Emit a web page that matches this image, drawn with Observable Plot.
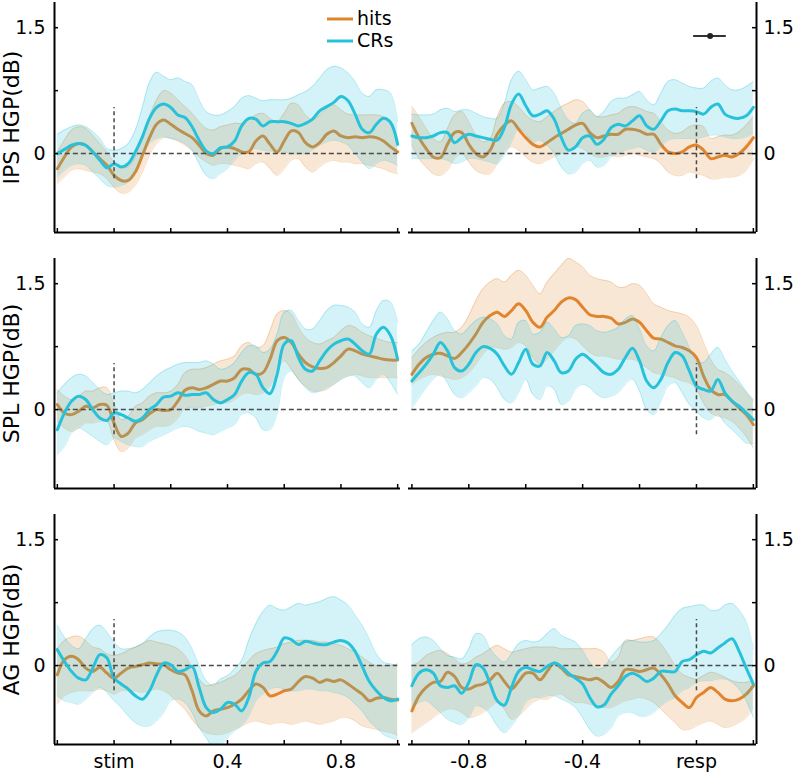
<!DOCTYPE html>
<html><head><meta charset="utf-8">
<script src="https://cdn.jsdelivr.net/npm/d3@7"></script>
<script src="https://cdn.jsdelivr.net/npm/@observablehq/plot@0.6"></script>
<style>
body{margin:0;background:#fff;font-family:"DejaVu Sans",sans-serif;}
#wrap{position:relative;width:793px;height:773px;overflow:hidden;background:#fff;}
.panel{position:absolute;}
</style></head><body><div id="wrap"></div>
<script>
// ---------- time axes ----------
const timeStim=[-0.2,-0.175,-0.15,-0.125,-0.1,-0.075,-0.05,-0.025,0,0.025,0.05,0.075,0.1,0.125,0.15,0.175,0.2,0.225,0.25,0.275,0.3,0.325,0.35,0.375,0.4,0.425,0.45,0.475,0.5,0.525,0.55,0.575,0.6,0.625,0.65,0.675,0.7,0.725,0.75,0.775,0.8,0.825,0.85,0.875,0.9,0.925,0.95,0.975,1.0];
const timeResp=[-1.0,-0.975,-0.95,-0.925,-0.9,-0.875,-0.85,-0.825,-0.8,-0.775,-0.75,-0.725,-0.7,-0.675,-0.65,-0.625,-0.6,-0.575,-0.55,-0.525,-0.5,-0.475,-0.45,-0.425,-0.4,-0.375,-0.35,-0.325,-0.3,-0.275,-0.25,-0.225,-0.2,-0.175,-0.15,-0.125,-0.1,-0.075,-0.05,-0.025,0,0.025,0.05,0.075,0.1,0.125,0.15,0.175,0.2];

// ---------- IPS, stimulus-locked ----------
const ipsStimHits=[-0.18,-0.04,0.08,0.12,0.10,0.02,-0.06,-0.14,-0.26,-0.32,-0.32,-0.22,-0.02,0.19,0.35,0.40,0.35,0.29,0.24,0.19,0.10,0.00,-0.02,0.06,0.08,0.06,0.02,0.02,0.15,0.21,0.11,0.02,0.15,0.27,0.25,0.13,0.08,0.13,0.23,0.27,0.21,0.19,0.20,0.19,0.20,0.19,0.15,0.08,0.02];
const ipsStimHitsLo=[-0.36,-0.28,-0.2,-0.18,-0.2,-0.22,-0.24,-0.3,-0.4,-0.47,-0.46,-0.38,-0.22,-0.02,0.12,0.19,0.18,0.15,0.1,0.04,-0.04,-0.1,-0.14,-0.12,-0.12,-0.14,-0.16,-0.18,-0.12,-0.1,-0.18,-0.26,-0.18,-0.08,-0.06,-0.16,-0.22,-0.16,-0.1,-0.08,-0.1,-0.1,-0.12,-0.12,-0.14,-0.16,-0.18,-0.22,-0.24];
const ipsStimHitsHi=[0.02,0.16,0.28,0.32,0.3,0.22,0.12,0.02,-0.1,-0.16,-0.16,-0.04,0.2,0.44,0.64,0.75,0.72,0.64,0.56,0.48,0.38,0.3,0.28,0.32,0.34,0.36,0.36,0.4,0.46,0.48,0.42,0.38,0.48,0.6,0.58,0.46,0.4,0.46,0.54,0.58,0.52,0.47,0.46,0.46,0.46,0.46,0.44,0.38,0.16];
const ipsStimCrs=[0.0,0.05,0.10,0.12,0.10,0.02,-0.08,-0.17,-0.12,-0.16,-0.12,0.02,0.2,0.42,0.55,0.59,0.55,0.46,0.43,0.32,0.16,0.03,0.0,0.07,0.08,0.15,0.33,0.42,0.41,0.33,0.38,0.38,0.38,0.36,0.33,0.36,0.41,0.51,0.56,0.61,0.68,0.63,0.47,0.29,0.25,0.35,0.42,0.37,0.11];
const ipsStimCrsLo=[-0.28,-0.2,-0.14,-0.12,-0.14,-0.22,-0.3,-0.38,-0.4,-0.38,-0.34,-0.22,-0.02,0.12,0.18,0.2,0.18,0.16,0.12,0.04,-0.12,-0.26,-0.3,-0.24,-0.18,-0.08,0.0,0.04,0.06,0.04,0.03,0.02,0.02,0.0,0.0,0.0,0.04,0.1,0.14,0.16,0.14,0.1,0.0,-0.1,-0.18,-0.12,-0.08,-0.1,-0.14];
const ipsStimCrsHi=[0.23,0.28,0.32,0.34,0.32,0.26,0.18,0.06,0.04,0.06,0.12,0.28,0.55,0.85,0.97,0.92,0.88,0.9,0.86,0.82,0.64,0.5,0.46,0.46,0.5,0.56,0.66,0.69,0.66,0.63,0.64,0.64,0.64,0.66,0.7,0.74,0.8,0.9,1.0,1.04,1.02,0.96,0.86,0.72,0.68,0.76,0.76,0.72,0.38];

// ---------- IPS, response-locked ----------
const ipsRespHits=[0.36,0.19,0.06,-0.04,-0.05,0.11,0.25,0.25,0.11,0.0,-0.04,0.04,0.23,0.34,0.39,0.29,0.19,0.11,0.08,0.13,0.19,0.24,0.29,0.34,0.36,0.25,0.19,0.21,0.23,0.23,0.29,0.29,0.27,0.23,0.23,0.11,0.02,0.0,0.02,0.08,0.1,0.04,-0.06,-0.04,-0.02,-0.04,0.0,0.08,0.19];
const ipsRespHitsLo=[0.1,-0.06,-0.16,-0.24,-0.26,-0.2,-0.06,0.0,-0.1,-0.2,-0.24,-0.24,-0.12,0.02,0.08,0.04,-0.04,-0.1,-0.12,-0.08,-0.04,0.0,0.04,0.08,0.06,0.0,-0.04,-0.04,-0.02,-0.04,-0.02,0.0,-0.02,-0.04,-0.06,-0.12,-0.22,-0.26,-0.26,-0.22,-0.24,-0.26,-0.3,-0.3,-0.28,-0.28,-0.26,-0.2,-0.06];
const ipsRespHitsHi=[0.56,0.44,0.3,0.18,0.14,0.3,0.46,0.5,0.38,0.22,0.14,0.18,0.44,0.6,0.62,0.56,0.46,0.4,0.38,0.44,0.5,0.56,0.6,0.64,0.62,0.52,0.44,0.44,0.46,0.48,0.54,0.56,0.54,0.5,0.48,0.38,0.28,0.24,0.26,0.32,0.34,0.32,0.18,0.2,0.22,0.22,0.26,0.34,0.44];
const ipsRespCrs=[0.21,0.19,0.19,0.21,0.25,0.25,0.13,0.19,0.23,0.21,0.19,0.17,0.16,0.31,0.59,0.71,0.57,0.45,0.47,0.51,0.41,0.19,0.04,0.08,0.19,0.21,0.11,0.17,0.31,0.35,0.33,0.39,0.45,0.33,0.29,0.39,0.51,0.53,0.51,0.51,0.5,0.47,0.55,0.59,0.47,0.43,0.42,0.45,0.55];
const ipsRespCrsLo=[-0.06,-0.06,-0.06,-0.06,-0.06,-0.08,-0.12,-0.1,-0.06,-0.06,-0.08,-0.1,-0.12,-0.02,0.14,0.3,0.24,0.14,0.16,0.1,0.0,-0.16,-0.24,-0.22,-0.12,-0.08,-0.16,-0.14,-0.04,0.0,0.04,0.06,0.08,0.04,0.02,0.08,0.16,0.18,0.18,0.18,0.18,0.2,0.22,0.22,0.2,0.18,0.18,0.2,0.24];
const ipsRespCrsHi=[0.47,0.46,0.46,0.47,0.52,0.54,0.5,0.52,0.52,0.48,0.44,0.42,0.42,0.6,0.88,0.98,0.88,0.76,0.78,0.8,0.72,0.54,0.4,0.36,0.48,0.52,0.44,0.5,0.62,0.66,0.66,0.7,0.74,0.64,0.58,0.72,0.86,0.88,0.84,0.8,0.78,0.78,0.86,0.9,0.82,0.76,0.76,0.8,0.86];

// ---------- SPL, stimulus-locked ----------
const splStimHits=[0.06,-0.04,-0.06,-0.02,0.04,0.02,0.06,0.05,-0.16,-0.32,-0.28,-0.16,-0.12,-0.05,0.0,-0.01,0.0,0.1,0.23,0.26,0.24,0.26,0.3,0.34,0.34,0.38,0.48,0.48,0.42,0.44,0.6,0.82,0.86,0.8,0.66,0.56,0.51,0.49,0.5,0.56,0.64,0.72,0.7,0.66,0.64,0.62,0.6,0.59,0.59];
const splStimHitsLo=[-0.14,-0.22,-0.26,-0.22,-0.16,-0.16,-0.14,-0.14,-0.36,-0.5,-0.46,-0.34,-0.3,-0.24,-0.2,-0.2,-0.18,-0.1,0.02,0.02,0.02,0.04,0.06,0.08,0.08,0.12,0.18,0.2,0.18,0.2,0.28,0.46,0.58,0.48,0.36,0.28,0.22,0.22,0.24,0.3,0.36,0.4,0.42,0.4,0.38,0.38,0.38,0.38,0.38];
const splStimHitsHi=[0.24,0.16,0.12,0.16,0.22,0.22,0.26,0.26,0.06,-0.12,-0.08,0.04,0.08,0.16,0.2,0.2,0.22,0.3,0.44,0.48,0.48,0.5,0.54,0.58,0.6,0.64,0.76,0.8,0.74,0.76,0.94,1.14,1.18,1.14,0.98,0.86,0.8,0.78,0.82,0.86,0.94,1.0,0.98,0.92,0.88,0.85,0.82,0.8,0.8];
const splStimCrs=[-0.24,-0.04,0.1,0.16,0.12,0.0,-0.1,-0.13,-0.04,-0.06,-0.1,-0.14,-0.1,0.0,0.06,0.15,0.16,0.2,0.17,0.18,0.18,0.2,0.12,0.08,0.12,0.18,0.34,0.44,0.42,0.26,0.19,0.42,0.78,0.82,0.62,0.48,0.46,0.58,0.7,0.78,0.82,0.84,0.78,0.7,0.66,0.9,0.98,0.88,0.6];
const splStimCrsLo=[-0.54,-0.44,-0.28,-0.22,-0.26,-0.32,-0.38,-0.42,-0.34,-0.38,-0.42,-0.44,-0.44,-0.38,-0.34,-0.3,-0.26,-0.22,-0.2,-0.22,-0.26,-0.28,-0.3,-0.26,-0.22,-0.18,-0.06,-0.04,-0.1,-0.24,-0.24,-0.04,0.38,0.46,0.36,0.26,0.2,0.22,0.26,0.3,0.36,0.4,0.4,0.32,0.26,0.36,0.42,0.32,0.18];
const splStimCrsHi=[0.2,0.3,0.38,0.42,0.4,0.32,0.24,0.18,0.2,0.22,0.22,0.2,0.24,0.32,0.4,0.46,0.5,0.54,0.56,0.56,0.56,0.58,0.54,0.48,0.5,0.56,0.68,0.76,0.76,0.68,0.72,0.9,1.16,1.18,1.06,0.96,0.96,1.06,1.18,1.24,1.24,1.22,1.16,1.02,0.98,1.18,1.3,1.28,1.04];

// ---------- SPL, response-locked ----------
const splRespHits=[0.42,0.54,0.62,0.66,0.67,0.64,0.61,0.68,0.78,0.9,1.04,1.12,1.16,1.11,1.18,1.26,1.18,1.04,0.98,1.1,1.18,1.28,1.33,1.31,1.22,1.13,1.11,1.11,1.09,1.02,1.04,1.08,1.04,0.94,0.85,0.84,0.8,0.76,0.74,0.7,0.62,0.4,0.24,0.18,0.18,0.1,0.02,-0.06,-0.18];
const splRespHitsLo=[0.3,0.36,0.4,0.42,0.4,0.38,0.36,0.38,0.44,0.54,0.66,0.74,0.74,0.72,0.74,0.8,0.76,0.62,0.54,0.6,0.7,0.8,0.86,0.84,0.76,0.68,0.64,0.64,0.62,0.6,0.6,0.6,0.56,0.5,0.44,0.42,0.4,0.38,0.34,0.32,0.24,0.08,-0.04,-0.08,-0.1,-0.14,-0.22,-0.32,-0.46];
const splRespHitsHi=[0.62,0.72,0.8,0.86,0.9,0.92,0.92,0.98,1.12,1.3,1.44,1.52,1.56,1.52,1.6,1.66,1.6,1.48,1.38,1.52,1.62,1.72,1.8,1.76,1.7,1.6,1.56,1.54,1.52,1.46,1.46,1.5,1.48,1.38,1.26,1.22,1.18,1.16,1.14,1.1,1.0,0.8,0.6,0.48,0.44,0.38,0.3,0.2,0.1];
const splRespCrs=[0.34,0.44,0.54,0.66,0.8,0.7,0.5,0.46,0.54,0.68,0.75,0.73,0.66,0.52,0.42,0.56,0.72,0.54,0.52,0.68,0.58,0.44,0.46,0.6,0.66,0.6,0.52,0.44,0.42,0.48,0.62,0.73,0.58,0.34,0.26,0.36,0.56,0.68,0.64,0.46,0.28,0.24,0.22,0.36,0.2,0.1,0.04,-0.04,-0.12];
const splRespCrsLo=[0.02,0.14,0.26,0.36,0.42,0.32,0.18,0.14,0.2,0.28,0.38,0.36,0.26,0.12,0.08,0.2,0.36,0.18,0.12,0.28,0.24,0.06,0.1,0.24,0.3,0.26,0.18,0.14,0.16,0.2,0.3,0.36,0.22,0.0,-0.06,0.1,0.28,0.32,0.2,0.06,-0.02,-0.1,-0.12,-0.06,-0.16,-0.24,-0.32,-0.4,-0.4];
const splRespCrsHi=[0.7,0.78,0.92,1.06,1.16,1.08,0.94,0.9,0.98,1.06,1.1,1.08,1.02,0.88,0.84,1.04,1.06,0.9,0.92,1.04,0.96,0.86,0.88,1.0,1.02,1.0,0.94,0.92,0.94,0.98,1.08,1.12,0.96,0.76,0.7,0.86,1.0,1.06,0.92,0.74,0.58,0.56,0.66,0.74,0.6,0.46,0.34,0.22,0.12];

// ---------- AG, stimulus-locked ----------
const agStimHits=[-0.11,0.07,0.11,0.07,-0.03,-0.07,-0.02,-0.09,-0.15,-0.09,-0.03,-0.01,0.01,0.03,0.02,0.01,-0.05,-0.09,-0.11,-0.3,-0.54,-0.6,-0.54,-0.52,-0.5,-0.46,-0.4,-0.3,-0.22,-0.26,-0.36,-0.34,-0.3,-0.28,-0.19,-0.13,-0.15,-0.2,-0.17,-0.19,-0.17,-0.22,-0.28,-0.34,-0.42,-0.39,-0.38,-0.4,-0.41];
const agStimHitsLo=[-0.46,-0.36,-0.32,-0.3,-0.3,-0.3,-0.28,-0.3,-0.34,-0.3,-0.3,-0.3,-0.32,-0.3,-0.28,-0.3,-0.36,-0.44,-0.52,-0.64,-0.74,-0.8,-0.82,-0.82,-0.8,-0.76,-0.72,-0.68,-0.66,-0.68,-0.7,-0.68,-0.68,-0.7,-0.68,-0.66,-0.68,-0.7,-0.68,-0.66,-0.62,-0.62,-0.66,-0.72,-0.74,-0.76,-0.78,-0.8,-0.83];
const agStimHitsHi=[0.2,0.3,0.34,0.35,0.3,0.22,0.2,0.14,0.12,0.14,0.18,0.22,0.26,0.3,0.28,0.26,0.24,0.2,0.12,-0.02,-0.16,-0.24,-0.22,-0.2,-0.16,-0.12,-0.04,0.06,0.14,0.18,0.2,0.22,0.26,0.28,0.3,0.3,0.3,0.28,0.28,0.26,0.24,0.2,0.16,0.1,0.04,0.0,0.0,0.0,0.02];
const agStimCrs=[0.19,0.05,-0.07,-0.15,-0.17,-0.03,0.13,0.09,-0.15,-0.22,-0.28,-0.36,-0.4,-0.3,-0.11,0.03,0.01,-0.07,-0.05,-0.01,-0.26,-0.5,-0.56,-0.52,-0.44,-0.46,-0.54,-0.38,-0.07,0.03,0.05,0.17,0.33,0.31,0.25,0.29,0.27,0.25,0.25,0.28,0.3,0.27,0.17,-0.01,-0.19,-0.3,-0.38,-0.42,-0.4];
const agStimCrsLo=[-0.36,-0.42,-0.44,-0.46,-0.4,-0.32,-0.26,-0.32,-0.42,-0.5,-0.6,-0.68,-0.72,-0.72,-0.66,-0.56,-0.42,-0.4,-0.44,-0.56,-0.74,-0.86,-0.98,-0.95,-0.86,-0.78,-0.72,-0.6,-0.42,-0.34,-0.28,-0.26,-0.28,-0.3,-0.3,-0.28,-0.28,-0.3,-0.3,-0.32,-0.34,-0.38,-0.46,-0.54,-0.66,-0.74,-0.82,-0.86,-0.88];
const agStimCrsHi=[0.48,0.34,0.24,0.2,0.32,0.44,0.48,0.4,0.28,0.2,0.2,0.22,0.26,0.34,0.4,0.42,0.42,0.4,0.34,0.2,0.0,-0.18,-0.24,-0.16,-0.12,-0.04,0.06,0.3,0.5,0.64,0.72,0.68,0.66,0.7,0.74,0.72,0.74,0.76,0.8,0.82,0.78,0.72,0.6,0.48,0.32,0.14,0.04,0.02,0.0];

// ---------- AG, response-locked ----------
const agRespHits=[-0.54,-0.36,-0.26,-0.2,-0.19,-0.08,-0.13,-0.26,-0.28,-0.24,-0.22,-0.17,-0.09,-0.19,-0.28,-0.19,-0.09,-0.09,-0.17,-0.07,0.03,-0.03,-0.11,-0.13,-0.15,-0.17,-0.15,-0.2,-0.26,-0.19,-0.05,-0.05,-0.07,-0.05,-0.03,-0.11,-0.22,-0.36,-0.44,-0.5,-0.38,-0.32,-0.26,-0.32,-0.4,-0.42,-0.4,-0.34,-0.24];
const agRespHitsLo=[-0.8,-0.74,-0.68,-0.62,-0.56,-0.52,-0.52,-0.56,-0.62,-0.6,-0.56,-0.5,-0.44,-0.52,-0.64,-0.6,-0.52,-0.44,-0.4,-0.4,-0.36,-0.34,-0.4,-0.44,-0.44,-0.46,-0.48,-0.5,-0.5,-0.46,-0.42,-0.4,-0.38,-0.4,-0.44,-0.52,-0.6,-0.68,-0.76,-0.76,-0.72,-0.68,-0.66,-0.7,-0.74,-0.72,-0.68,-0.62,-0.5];
const agRespHitsHi=[0.0,0.04,0.12,0.16,0.18,0.14,0.08,0.02,0.04,0.1,0.14,0.2,0.24,0.2,0.16,0.18,0.2,0.22,0.22,0.22,0.22,0.2,0.2,0.2,0.2,0.2,0.2,0.16,0.04,0.1,0.3,0.3,0.32,0.34,0.34,0.26,0.14,0.0,-0.1,-0.14,-0.16,-0.12,-0.08,-0.1,-0.14,-0.18,-0.2,-0.2,-0.18];
const agRespCrs=[-0.24,-0.09,-0.05,-0.09,-0.24,-0.26,-0.24,-0.33,-0.2,0.01,-0.03,-0.22,-0.42,-0.47,-0.26,-0.07,-0.02,-0.05,-0.07,-0.01,0.03,-0.01,-0.09,-0.15,-0.22,-0.38,-0.49,-0.47,-0.34,-0.24,-0.13,-0.09,-0.13,-0.19,-0.15,-0.07,-0.07,-0.07,0.05,0.07,0.13,0.17,0.15,0.21,0.27,0.32,0.17,-0.03,-0.22];
const agRespCrsLo=[-0.5,-0.44,-0.42,-0.48,-0.56,-0.64,-0.68,-0.7,-0.62,-0.48,-0.5,-0.58,-0.72,-0.8,-0.72,-0.6,-0.44,-0.38,-0.38,-0.36,-0.36,-0.4,-0.44,-0.5,-0.62,-0.76,-0.84,-0.82,-0.74,-0.6,-0.56,-0.56,-0.6,-0.6,-0.56,-0.48,-0.42,-0.38,-0.3,-0.26,-0.2,-0.18,-0.18,-0.16,-0.16,-0.2,-0.28,-0.42,-0.62];
const agRespCrsHi=[0.25,0.32,0.34,0.3,0.2,0.12,0.1,0.08,0.2,0.38,0.36,0.2,0.1,0.04,0.14,0.26,0.3,0.28,0.3,0.38,0.44,0.36,0.32,0.28,0.18,0.04,-0.04,-0.02,0.1,0.2,0.28,0.3,0.28,0.28,0.3,0.38,0.48,0.6,0.68,0.7,0.72,0.72,0.66,0.66,0.72,0.74,0.66,0.52,0.2];

// ---------- labels & annotations ----------
const regionLabels=["IPS HGP(dB)","SPL HGP(dB)","AG HGP(dB)"];
const seriesNames=["hits","CRs"];
const stimTicks=[-0.2,0,0.2,0.4,0.6,0.8,1.0];
const stimTickLabels=[0,0.4,0.8];
const respTicks=[-1.0,-0.8,-0.6,-0.4,-0.2,0,0.2];
const respTickLabels=[-0.8,-0.4,0];
const yTicks=[0,0.75,1.5];
const yTickLabels=[0,1.5];
const onsetMarker=[{x:0,y1:-0.3,y2:0.55}];
const rtBar=[{x:0.048,x1:-0.01,x2:0.105,y:1.4}];

const hitsColor="#E0852E", crsColor="#27C2DA", refColor="#4a4a4a";
const yDomain=[-0.94,1.8];
const stimDomain=[-0.21,1.01], respDomain=[-1.012,0.211];
const frameTops=[2,258,514], frameH=230;

const wrap=document.getElementById("wrap");

function makePanel(cfg){
  const left=cfg.side==="left";
  const width=left?404:389, mL=left?54:4, mR=left?4:37;
  const mT=6, mB=cfg.bottom?32:6;
  const frameW=width-mL-mR;
  const time=cfg.time;
  const rows=(m,lo,hi)=>time.map((t,i)=>({t,m:m[i],lo:lo[i],hi:hi[i]}));
  const H=rows(cfg.hits,cfg.hitsLo,cfg.hitsHi);
  const C=rows(cfg.crs,cfg.crsLo,cfg.crsHi);
  const curve="catmull-rom";
  const band=(D,col)=>[
    Plot.areaY(D,{x:"t",y1:"lo",y2:"hi",fill:col,fillOpacity:0.2,curve,clip:true}),
    Plot.lineY(D,{x:"t",y:"lo",stroke:col,strokeOpacity:0.35,strokeWidth:0.8,curve,clip:true}),
    Plot.lineY(D,{x:"t",y:"hi",stroke:col,strokeOpacity:0.35,strokeWidth:0.8,curve,clip:true})
  ];
  const marks=[
    ...band(H,hitsColor),
    Plot.lineY(H,{x:"t",y:"m",stroke:hitsColor,strokeWidth:3,curve,clip:true}),
    ...band(C,crsColor),
    Plot.ruleY([{y:0,x1:time[0],x2:time[time.length-1]}],{y:"y",x1:"x1",x2:"x2",stroke:refColor,strokeWidth:1.5,strokeDasharray:"5,3"}),
    Plot.lineY(C,{x:"t",y:"m",stroke:crsColor,strokeWidth:3,curve,clip:true}),
    Plot.ruleX(onsetMarker,{x:"x",y1:"y1",y2:"y2",stroke:refColor,strokeWidth:1.5,strokeDasharray:"4,3"}),
    // axis lines
    Plot.ruleY([yDomain[0]],{stroke:"#000",strokeWidth:2}),
    Plot.ruleX([left?cfg.xDomain[0]:cfg.xDomain[1]],{stroke:"#000",strokeWidth:2}),
    // ticks (inward)
    Plot.tickX(cfg.ticks,{x:d=>d,insetTop:frameH-4,stroke:"#000",strokeWidth:1.5}),
    Plot.tickY(yTicks,{y:d=>d,...(left?{insetRight:frameW-4}:{insetLeft:frameW-4}),stroke:"#000",strokeWidth:1.5}),
    Plot.axisY({anchor:left?"left":"right",ticks:yTickLabels,tickSize:0,tickPadding:left?9:7,tickFormat:d=>String(d),label:null,fontSize:19})
  ];
  if(left){
    marks.push(Plot.text([cfg.ylabel],{text:d=>d,frameAnchor:"left",textAnchor:"middle",dx:-43,rotate:-90,fontSize:22,fill:"#000"}));
  }
  if(cfg.bottom){
    marks.push(Plot.axisX({anchor:"bottom",ticks:cfg.labelTicks,tickSize:0,tickPadding:10,label:null,fontSize:19,
      tickFormat:d=>d===0?cfg.zeroLabel:d.toFixed(1)}));
  }
  if(cfg.rt){
    marks.push(Plot.ruleY(rtBar,{y:"y",x1:"x1",x2:"x2",stroke:"#333",strokeWidth:2}));
    marks.push(Plot.dot(rtBar,{x:"x",y:"y",r:3,fill:"#222",stroke:null}));
  }
  const svg=Plot.plot({
    width,height:mT+frameH+mB,
    marginLeft:mL,marginRight:mR,marginTop:mT,marginBottom:mB,
    x:cfg.bottom?{domain:cfg.xDomain}:{domain:cfg.xDomain,axis:null},
    y:{domain:yDomain},
    style:{fontFamily:'"DejaVu Sans", sans-serif',fontSize:"19px",background:"transparent",overflow:"visible",color:"#000"},
    marks
  });
  const div=document.createElement("div");
  div.className="panel";
  div.style.left=(left?0:404)+"px";
  div.style.top=(frameTops[cfg.row]-mT)+"px";
  div.appendChild(svg);
  wrap.appendChild(div);
}

const regions=[
  {hits:[ipsStimHits,ipsStimHitsLo,ipsStimHitsHi],crs:[ipsStimCrs,ipsStimCrsLo,ipsStimCrsHi],
   rh:[ipsRespHits,ipsRespHitsLo,ipsRespHitsHi],rc:[ipsRespCrs,ipsRespCrsLo,ipsRespCrsHi]},
  {hits:[splStimHits,splStimHitsLo,splStimHitsHi],crs:[splStimCrs,splStimCrsLo,splStimCrsHi],
   rh:[splRespHits,splRespHitsLo,splRespHitsHi],rc:[splRespCrs,splRespCrsLo,splRespCrsHi]},
  {hits:[agStimHits,agStimHitsLo,agStimHitsHi],crs:[agStimCrs,agStimCrsLo,agStimCrsHi],
   rh:[agRespHits,agRespHitsLo,agRespHitsHi],rc:[agRespCrs,agRespCrsLo,agRespCrsHi]}
];
regions.forEach((r,i)=>{
  const bottom=i===2;
  makePanel({side:"left",row:i,bottom,time:timeStim,xDomain:stimDomain,ticks:stimTicks,labelTicks:stimTickLabels,zeroLabel:"stim",
    ylabel:regionLabels[i],hits:r.hits[0],hitsLo:r.hits[1],hitsHi:r.hits[2],crs:r.crs[0],crsLo:r.crs[1],crsHi:r.crs[2]});
  makePanel({side:"right",row:i,bottom,time:timeResp,xDomain:respDomain,ticks:respTicks,labelTicks:respTickLabels,zeroLabel:"resp",
    rt:i===0,hits:r.rh[0],hitsLo:r.rh[1],hitsHi:r.rh[2],crs:r.rc[0],crsLo:r.rc[1],crsHi:r.rc[2]});
});

// legend
const NS="http://www.w3.org/2000/svg";
const leg=document.createElementNS(NS,"svg");
leg.setAttribute("width","793");leg.setAttribute("height","60");
leg.style.position="absolute";leg.style.left="0";leg.style.top="0";leg.style.overflow="visible";
[[hitsColor,19,25],[crsColor,41,47]].forEach(([c,ly,ty],i)=>{
  const l=document.createElementNS(NS,"line");
  l.setAttribute("x1","327");l.setAttribute("x2","353");l.setAttribute("y1",ly);l.setAttribute("y2",ly);
  l.setAttribute("stroke",c);l.setAttribute("stroke-width","3");
  leg.appendChild(l);
  const t=document.createElementNS(NS,"text");
  t.setAttribute("x","357");t.setAttribute("y",ty);
  t.setAttribute("font-family","DejaVu Sans");t.setAttribute("font-size","19");t.setAttribute("fill","#000");
  t.textContent=seriesNames[i];
  leg.appendChild(t);
});
wrap.appendChild(leg);
</script></body></html>
